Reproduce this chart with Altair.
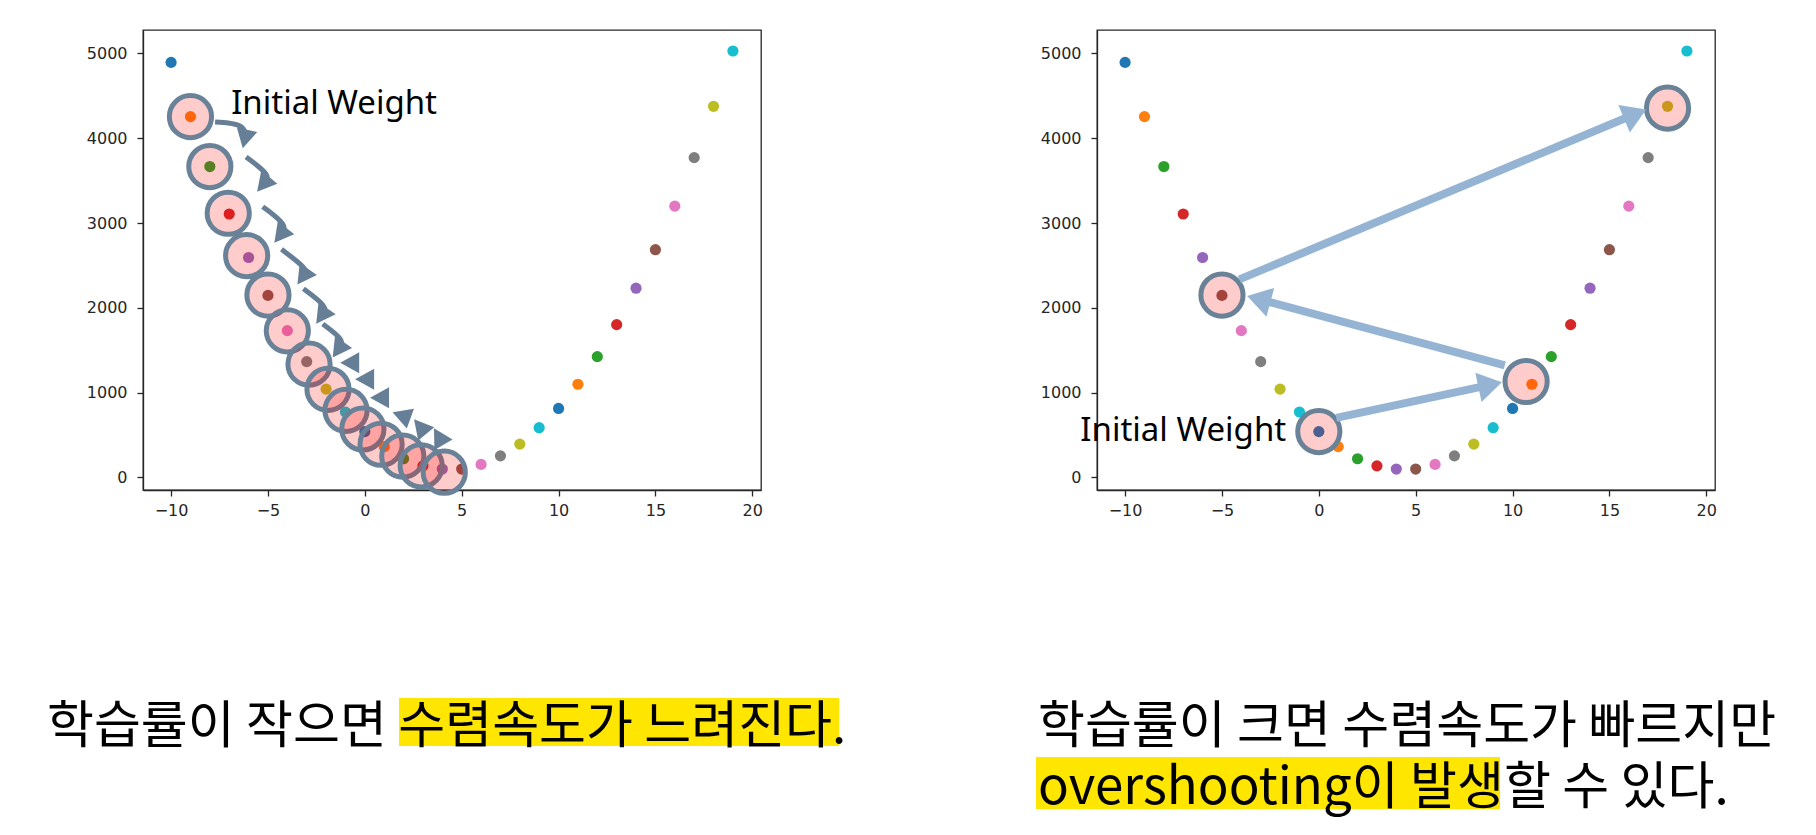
import math
import altair as alt
import pandas as pd

# ---------------- data ----------------
xs = list(range(-10, 20))
ys = [4895, 4255, 3666, 3106, 2593, 2146, 1730, 1364, 1040, 770,
      539, 362, 219, 135, 97, 97, 152, 253, 391, 585,
      812, 1098, 1423, 1801, 2231, 2685, 3199, 3771, 4377, 5029]
tab10 = ["#1f77b4", "#ff7f0e", "#2ca02c", "#d62728", "#9467bd",
         "#8c564b", "#e377c2", "#7f7f7f", "#bcbd22", "#17becf"]
dot_colors = [tab10[i % 10] for i in range(len(xs))]

x_ticks = [-10, -5, 0, 5, 10, 15, 20]
y_ticks = [0, 1000, 2000, 3000, 4000, 5000]

# left panel: small learning rate, highlighted weights
left_cx = [-9, -8, -7.05, -6.1, -5, -4, -2.88, -1.9, -0.97, -0.1, 0.84, 1.96, 2.91, 4.1]
left_cy = [4255, 3666, 3115, 2615, 2150, 1728, 1335, 1038, 790, 570, 390, 250, 135, 60]

# curved arrows (tail, bend, end) for the first six steps
arr_tail_x = [-7.73, -6.13, -5.27, -4.30, -3.17, -2.17]
arr_tail_y = [4192, 3779, 3193, 2689, 2224, 1807]
arr_bend_x = [-6.23, -4.86, -3.98, -2.93, -1.91, -1.04]
arr_bend_y = [4168, 3561, 2971, 2453, 2008, 1614]
arr_end_x = [-6.16, -5.16, -4.30, -3.12, -2.16, -1.31]
arr_end_y = [4020, 3478, 2880, 2389, 1928, 1528]
# arrow head tips and their pointing angles (degrees, clockwise from up)
head_x = [-6.30, -5.56, -4.67, -3.48, -2.51, -1.66, -1.27, -0.50, 0.27, 1.43, 2.54, 3.57]
head_y = [3882, 3370, 2768, 2273, 1812, 1412, 1352, 1156, 939, 768, 684, 579]
head_ang = [193, 220, 218, 215, 215, 215, 270, 270, 270, 290, 320, 330]

# right panel: large learning rate, overshooting
right_cx = [0, 10.7, -5, 18]
right_cy = [539, 1130, 2150, 4355]
r_from_x = [0.9, 9.6, -4.1]
r_from_y = [700, 1320, 2335]
r_to_x = [9.45, -3.7, 16.9]
r_to_y = [1120, 2138, 4340]

label_text = "Initial Weight"
left_label_x, left_label_y = -6.9, 4283
right_label_x, right_label_y = -12.31, 428

cap_left = "학습률이 작으면 수렴속도가 느려진다."
cap_right_1 = "학습률이 크면 수렴속도가 빠르지만"
cap_right_2 = "overshooting이 발생할 수 있다."

# ---------------- styling ----------------
W, H = 618, 460
XDOM = [-11.45, 20.45]
YDOM = [-150, 5277]
CIRCLE_STROKE = "#6a8298"
ARROW_DARK = "#667f96"
ARROW_LIGHT = "#95b4d3"
HILITE = "#ffe600"
CJK = "Noto Sans CJK KR"
CAP_SIZE = 51
LEFT_HEAD = "M0,0L-0.55,1L0.55,1Z"
RIGHT_HEAD = "M0,0L-0.62,1L0.62,1Z"

kx = W / (XDOM[1] - XDOM[0])
ky = H / (YDOM[1] - YDOM[0])

xsc = alt.Scale(domain=XDOM, nice=False, zero=False)
ysc = alt.Scale(domain=YDOM, nice=False, zero=False)
minus = "replace(datum.label, '-', '\u2212')"
xax = alt.Axis(values=x_ticks, title=None, grid=False, labelExpr=minus, format="d")
yax = alt.Axis(values=y_ticks, title=None, grid=False, labelPadding=10, format="d")

dots_df = pd.DataFrame({"x": xs, "y": ys, "c": dot_colors})


def X(field="x", axis=True):
    return alt.X(f"{field}:Q", scale=xsc, axis=xax if axis else None)


def Y(field="y", axis=True):
    return alt.Y(f"{field}:Q", scale=ysc, axis=yax if axis else None)


def dots_layer():
    return alt.Chart(dots_df).mark_circle(size=125, opacity=1).encode(
        x=X(), y=Y(), color=alt.Color("c:N", scale=None))


def circles_layer(cx, cy):
    df = pd.DataFrame({"x": cx, "y": cy})
    return alt.Chart(df).mark_circle(
        size=1780, fill="#ff0000", fillOpacity=0.2, stroke=CIRCLE_STROKE,
        strokeWidth=5, strokeOpacity=1, opacity=1).encode(x=X(), y=Y())


def text_layer(x, y, txt):
    df = pd.DataFrame({"x": [x], "y": [y], "t": [txt]})
    return alt.Chart(df).mark_text(
        font="Noto Sans", fontSize=33, align="left", baseline="alphabetic",
        color="#000000").encode(x=X(), y=Y(), text="t:N")


def caption(txt, px, py):
    df = pd.DataFrame({"t": [txt]})
    return alt.Chart(df).mark_text(
        font=CJK, fontSize=CAP_SIZE, align="left", baseline="alphabetic",
        color="#000000").encode(x=alt.value(px), y=alt.value(py), text="t:N")


def hilite(x0, x1, y0, y1):
    df = pd.DataFrame({"k": [0]})
    return alt.Chart(df).mark_rect(color=HILITE, opacity=1).encode(
        x=alt.value(x0), x2=alt.value(x1), y=alt.value(y0), y2=alt.value(y1))


# ---------------- left chart ----------------
rows = []
for i in range(len(arr_tail_x)):
    rows.append({"id": i, "o": 0, "x": arr_tail_x[i], "y": arr_tail_y[i]})
    rows.append({"id": i, "o": 1, "x": arr_bend_x[i], "y": arr_bend_y[i]})
    rows.append({"id": i, "o": 2, "x": arr_end_x[i], "y": arr_end_y[i]})
arrows_df = pd.DataFrame(rows)
arrow_lines = alt.Chart(arrows_df).mark_line(
    interpolate="basis", strokeWidth=5, color=ARROW_DARK, strokeCap="butt").encode(
    x=X(), y=Y(), detail="id:N", order="o:Q")

heads_df = pd.DataFrame({"x": head_x, "y": head_y, "a": head_ang})
arrow_heads = alt.Chart(heads_df).mark_point(
    shape=LEFT_HEAD, size=1444, filled=True, color=ARROW_DARK, opacity=1,
    strokeWidth=0).encode(x=X(), y=Y(), angle=alt.Angle("a:Q", scale=None))

left = alt.layer(
    hilite(256, 696, 668, 716),
    caption(cap_left, -96, 713),
    dots_layer(),
    circles_layer(left_cx, left_cy),
    arrow_lines,
    arrow_heads,
    text_layer(left_label_x, left_label_y, label_text),
).properties(width=W, height=H)

# ---------------- right chart ----------------
HEAD_H = 24
rr = []
for i in range(len(r_from_x)):
    dxp = (r_to_x[i] - r_from_x[i]) * kx
    dyp = -(r_to_y[i] - r_from_y[i]) * ky
    n = math.hypot(dxp, dyp)
    ux, uy = dxp / n, dyp / n
    ang = math.degrees(math.atan2(ux, -uy)) % 360
    ex = r_to_x[i] - ux * HEAD_H * 0.6 / kx
    ey = r_to_y[i] + uy * HEAD_H * 0.6 / ky
    rr.append({"x": r_from_x[i], "y": r_from_y[i], "x2": ex, "y2": ey,
               "tx": r_to_x[i], "ty": r_to_y[i], "a": ang})
rdf = pd.DataFrame(rr)
r_lines = alt.Chart(rdf).mark_rule(strokeWidth=8, color=ARROW_LIGHT, strokeCap="butt").encode(
    x=X(), y=Y(), x2="x2:Q", y2="y2:Q")
r_heads = alt.Chart(rdf).mark_point(
    shape=RIGHT_HEAD, size=(2 * HEAD_H) ** 2, filled=True, color=ARROW_LIGHT, opacity=1,
    strokeWidth=0).encode(x=X("tx"), y=Y("ty"), angle=alt.Angle("a:Q", scale=None))

right = alt.layer(
    hilite(-61, 403, 727, 779),
    caption(cap_right_1, -59, 713),
    caption(cap_right_2, -59, 774),
    dots_layer(),
    circles_layer(right_cx, right_cy),
    r_lines,
    r_heads,
    text_layer(right_label_x, right_label_y, label_text),
).properties(width=W, height=H)

chart = alt.hconcat(left, right, spacing=188).properties(
    padding={"left": 38, "top": 21, "right": 5, "bottom": 5},
    background="white",
).configure_view(
    stroke="#262626", strokeWidth=1.3,
).configure_axis(
    labelFont="DejaVu Sans", labelFontSize=16, labelColor="#262626",
    tickSize=6, tickColor="#262626", tickWidth=1.3,
    domainColor="#262626", domainWidth=1.3, labelPadding=6,
)

chart.save("out.html", embed_options={"renderer": "svg", "actions": False})
